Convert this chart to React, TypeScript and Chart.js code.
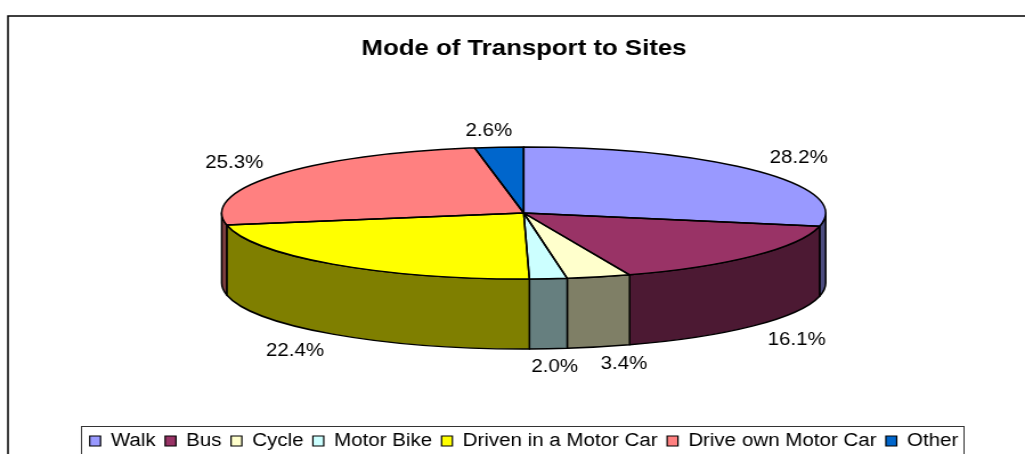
import React, { useEffect, useRef } from "react";
import { Chart, registerables } from "chart.js";

Chart.register(...registerables);

const categories = ["Walk", "Bus", "Cycle", "Motor Bike", "Driven in a Motor Car", "Drive own Motor Car", "Other"];
const shares = [28.2, 16.1, 3.4, 2.0, 22.4, 25.3, 2.6];
const topColors = ["#9999FF", "#993366", "#FFFFCC", "#CCFFFF", "#FFFF00", "#FF8080", "#0066CC"];
const labelNudgeX = [0, 3, 12, 2, -4, 1, -6];
const labelNudgeY = [2, -1, 2, 3, 2, 3, -1];

// The reference is a horizontally stretched picture: draw narrow, show wide.
const STRETCH = 1.14;
const PAGE_W = 1025;
const PAGE_H = 454;
const CANVAS_W = Math.round(PAGE_W / STRETCH);
const SX = CANVAS_W / PAGE_W;
const CX = 523.7 * SX;
const CY = 213;
const RADIUS = 302 * SX;
const RY = 66;
const DEPTH = 70;
const FONT = "'Liberation Sans', Arial, sans-serif";

const halve = (hex: string) => {
  const n = parseInt(hex.slice(1), 16);
  const r = (n >> 16) >> 1, g = ((n >> 8) & 255) >> 1, b = (n & 255) >> 1;
  return `rgb(${r},${g},${b})`;
};

const pie3d = {
  id: "pie3d",
  beforeDraw(chart: any) {
    const { ctx } = chart;
    ctx.save();
    ctx.fillStyle = "#fff";
    ctx.fillRect(0, 0, chart.width, chart.height);
    ctx.strokeStyle = "#000";
    ctx.lineWidth = 1.5;
    ctx.beginPath();
    ctx.moveTo(8 * SX, PAGE_H + 5);
    ctx.lineTo(8 * SX, 16);
    ctx.lineTo(chart.width + 5, 16);
    ctx.stroke();
    ctx.strokeStyle = "#333";
    ctx.lineWidth = 1;
    ctx.strokeRect(81.5 * SX, 426.5, (964 - 81.5) * SX, 60);
    ctx.restore();
  },
  beforeDatasetsDraw(chart: any) {
    const { ctx } = chart;
    const arcs = chart.getDatasetMeta(0).data;
    ctx.save();
    ctx.lineWidth = 1.5;
    ctx.strokeStyle = "#000";
    ctx.lineJoin = "round";
    arcs.forEach((arc: any, i: number) => {
      const two = Math.PI * 2;
      // the front half of the rim is canvas angle 0..PI (and 2PI..3PI)
      for (const k of [0, 1, -1]) {
        const a = Math.max(arc.startAngle, k * two);
        const b = Math.min(arc.endAngle, k * two + Math.PI);
        if (b <= a) continue;
        ctx.beginPath();
        ctx.ellipse(CX, CY, RADIUS, RY, 0, a, b);
        ctx.ellipse(CX, CY + DEPTH, RADIUS, RY, 0, b, a, true);
        ctx.closePath();
        ctx.fillStyle = halve(topColors[i]);
        ctx.fill();
        ctx.stroke();
      }
    });
    ctx.restore();
    const first = arcs[0];
    ctx.save();
    ctx.translate(CX, CY);
    ctx.scale(1, RY / RADIUS);
    ctx.translate(-first.x, -first.y);
  },
  afterDatasetsDraw(chart: any) {
    const { ctx } = chart;
    ctx.restore();
    const arcs = chart.getDatasetMeta(0).data;
    ctx.save();
    ctx.lineWidth = 1.5;
    ctx.strokeStyle = "#000";
    ctx.lineJoin = "round";
    arcs.forEach((arc: any) => {
      ctx.beginPath();
      ctx.moveTo(CX, CY);
      ctx.ellipse(CX, CY, RADIUS, RY, 0, arc.startAngle, arc.endAngle);
      ctx.closePath();
      ctx.stroke();
    });
    ctx.fillStyle = "#000";
    ctx.font = `18px ${FONT}`;
    ctx.textAlign = "center";
    ctx.textBaseline = "middle";
    arcs.forEach((arc: any, i: number) => {
      const mid = (arc.startAngle + arc.endAngle) / 2;
      const sn = Math.sin(mid), cs = Math.cos(mid);
      const x = CX + (RADIUS + 53 * SX) * cs + labelNudgeX[i] * SX;
      const front = sn > 0;
      const y = CY + RY * sn + (front ? DEPTH + 15 : -15) + labelNudgeY[i];
      ctx.fillText(shares[i].toFixed(1) + "%", x, y);
    });
    ctx.restore();
  },
};

export default function App() {
  const ref = useRef<HTMLCanvasElement>(null);
  useEffect(() => {
    document.body.style.margin = "0";
    const chart = new Chart(ref.current as HTMLCanvasElement, {
      type: "pie",
      data: {
        labels: categories,
        datasets: [
          {
            data: shares,
            backgroundColor: topColors,
            borderWidth: 0,
            clip: false,
          } as any,
        ],
      },
      options: {
        responsive: false,
        animation: false,
        events: [],
        radius: RADIUS,
        layout: { padding: { left: 23 * SX, right: 0, top: 0, bottom: -6 } },
        plugins: {
          tooltip: { enabled: false },
          title: {
            display: true,
            text: "Mode of Transport to Sites",
            color: "#000",
            font: { family: FONT, size: 22.6, weight: "bold" },
            padding: { top: 35, bottom: 10 },
          },
          legend: {
            display: true,
            position: "bottom",
            labels: {
              color: "#000",
              font: { family: FONT, size: 18 },
              boxWidth: 9.5,
              boxHeight: 10,
              padding: 8.3,
              generateLabels: (c: any) =>
                (Chart as any).overrides.pie.plugins.legend.labels
                  .generateLabels(c)
                  .map((l: any) => ({ ...l, strokeStyle: "#000", lineWidth: 1.2 })),
            },
          },
        },
      } as any,
      plugins: [pie3d],
    });
    return () => chart.destroy();
  }, []);
  return (
    <div style={{ width: PAGE_W, height: PAGE_H, overflow: "hidden" }}>
      <canvas
        ref={ref}
        width={CANVAS_W}
        height={PAGE_H}
        style={{ width: PAGE_W, height: PAGE_H, display: "block" }}
      />
    </div>
  );
}
